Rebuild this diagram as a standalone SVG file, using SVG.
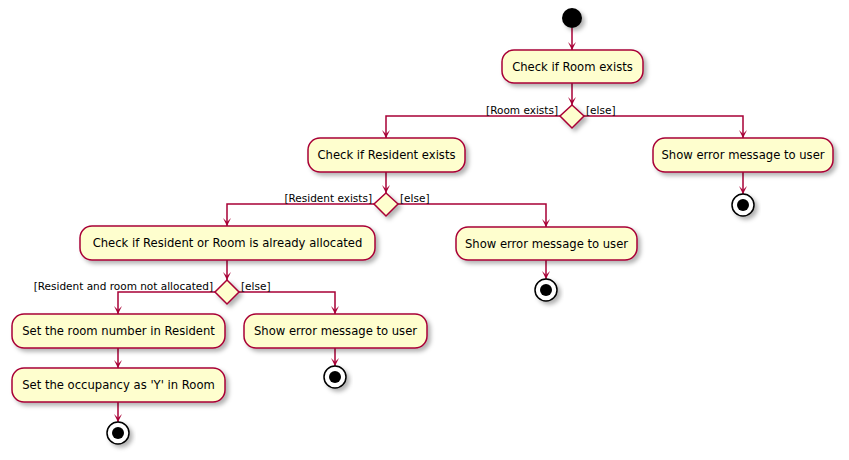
<svg xmlns="http://www.w3.org/2000/svg" width="849" height="460" viewBox="0 0 849 460">
<style>
.act{fill:#FEFECE;stroke:#A80036;stroke-width:1.5;filter:url(#sh)}
.dia{fill:#FEFECE;stroke:#A80036;stroke-width:1.5;filter:url(#sh)}
.t{font-family:"DejaVu Sans",sans-serif;font-size:11.6px;fill:#000;text-anchor:middle}
.l{font-family:"DejaVu Sans",sans-serif;font-size:10.5px;fill:#000}
.c{fill:none;stroke:#A80036;stroke-width:1.5}
.ah{fill:#A80036}
.st{fill:#000;filter:url(#sh)}
.endo{fill:#fff;stroke:#000;stroke-width:1.5;filter:url(#sh)}
</style>
<defs>
<filter id="sh" x="-20%" y="-20%" width="150%" height="160%">
<feGaussianBlur in="SourceAlpha" stdDeviation="2"/>
<feOffset dx="3" dy="3" result="b"/>
<feFlood flood-color="#000" flood-opacity="0.3"/>
<feComposite in2="b" operator="in"/>
<feMerge><feMergeNode/><feMergeNode in="SourceGraphic"/></feMerge>
</filter>
</defs>
<rect width="849" height="460" fill="#fff"/>
<g id="connectors">
<path class="c" d="M572,28 V50"/>
<polygon class="ah" points="568,42 572,50 576,42 572,46"/>
<path class="c" d="M572,83 V105"/>
<polygon class="ah" points="568,97 572,105 576,97 572,101"/>
<path class="c" d="M560,116 H386 V138"/>
<polygon class="ah" points="382,130 386,138 390,130 386,134"/>
<path class="c" d="M584,116 H743 V138"/>
<polygon class="ah" points="739,130 743,138 747,130 743,134"/>
<path class="c" d="M743,172 V194"/>
<polygon class="ah" points="739,186 743,194 747,186 743,190"/>
<path class="c" d="M386,172 V193"/>
<polygon class="ah" points="382,185 386,193 390,185 386,189"/>
<path class="c" d="M374,204 H227 V226"/>
<polygon class="ah" points="223,218 227,226 231,218 227,222"/>
<path class="c" d="M398,204 H546 V227"/>
<polygon class="ah" points="542,219 546,227 550,219 546,223"/>
<path class="c" d="M546,260 V279"/>
<polygon class="ah" points="542,271 546,279 550,271 546,275"/>
<path class="c" d="M227,260 V280"/>
<polygon class="ah" points="223,272 227,280 231,272 227,276"/>
<path class="c" d="M215,292 H118 V314"/>
<polygon class="ah" points="114,306 118,314 122,306 118,310"/>
<path class="c" d="M239,292 H335 V314"/>
<polygon class="ah" points="331,306 335,314 339,306 335,310"/>
<path class="c" d="M335,348 V366"/>
<polygon class="ah" points="331,358 335,366 339,358 335,362"/>
<path class="c" d="M118,348 V368"/>
<polygon class="ah" points="114,360 118,368 122,360 118,364"/>
<path class="c" d="M118,402 V422"/>
<polygon class="ah" points="114,414 118,422 122,414 118,418"/>
</g>
<g id="start"><circle class="st" cx="572" cy="18" r="10"/></g>
<g id="n_room"><rect class="act" x="502" y="50" width="141" height="33" rx="12"/><text class="t" x="572.5" y="71">Check if Room exists</text></g>
<g id="d_room"><polygon class="dia" points="572,105 584,116 572,128 560,116"/><text class="l" x="558" y="114" text-anchor="end">[Room exists]</text><text class="l" x="586" y="114">[else]</text></g>
<g id="n_err1"><rect class="act" x="653" y="138" width="180" height="34" rx="12"/><text class="t" x="743" y="159">Show error message to user</text></g>
<g id="end1"><circle class="endo" cx="743" cy="205" r="11"/><circle cx="743" cy="205" r="6" fill="#000"/></g>
<g id="n_res"><rect class="act" x="308" y="138" width="157" height="34" rx="12"/><text class="t" x="386.5" y="159">Check if Resident exists</text></g>
<g id="d_res"><polygon class="dia" points="386,193 398,204 386,216 374,204"/><text class="l" x="372" y="202" text-anchor="end">[Resident exists]</text><text class="l" x="400" y="202">[else]</text></g>
<g id="n_err2"><rect class="act" x="456" y="227" width="181" height="33" rx="12"/><text class="t" x="546.5" y="248">Show error message to user</text></g>
<g id="end2"><circle class="endo" cx="546" cy="290" r="11"/><circle cx="546" cy="290" r="6" fill="#000"/></g>
<g id="n_alloc"><rect class="act" x="80" y="226" width="295" height="34" rx="12"/><text class="t" x="227.5" y="247">Check if Resident or Room is already allocated</text></g>
<g id="d_alloc"><polygon class="dia" points="227,280 239,292 227,304 215,292"/><text class="l" x="213" y="290" text-anchor="end">[Resident and room not allocated]</text><text class="l" x="241" y="290">[else]</text></g>
<g id="n_err3"><rect class="act" x="244" y="314" width="183" height="34" rx="12"/><text class="t" x="335.5" y="335">Show error message to user</text></g>
<g id="end3"><circle class="endo" cx="335" cy="377" r="11"/><circle cx="335" cy="377" r="6" fill="#000"/></g>
<g id="n_setroom"><rect class="act" x="12" y="314" width="213" height="34" rx="12"/><text class="t" x="118.5" y="335">Set the room number in Resident</text></g>
<g id="n_setocc"><rect class="act" x="12" y="368" width="213" height="34" rx="12"/><text class="t" x="118.5" y="389">Set the occupancy as 'Y' in Room</text></g>
<g id="end4"><circle class="endo" cx="118" cy="433" r="11"/><circle cx="118" cy="433" r="6" fill="#000"/></g>
</svg>
